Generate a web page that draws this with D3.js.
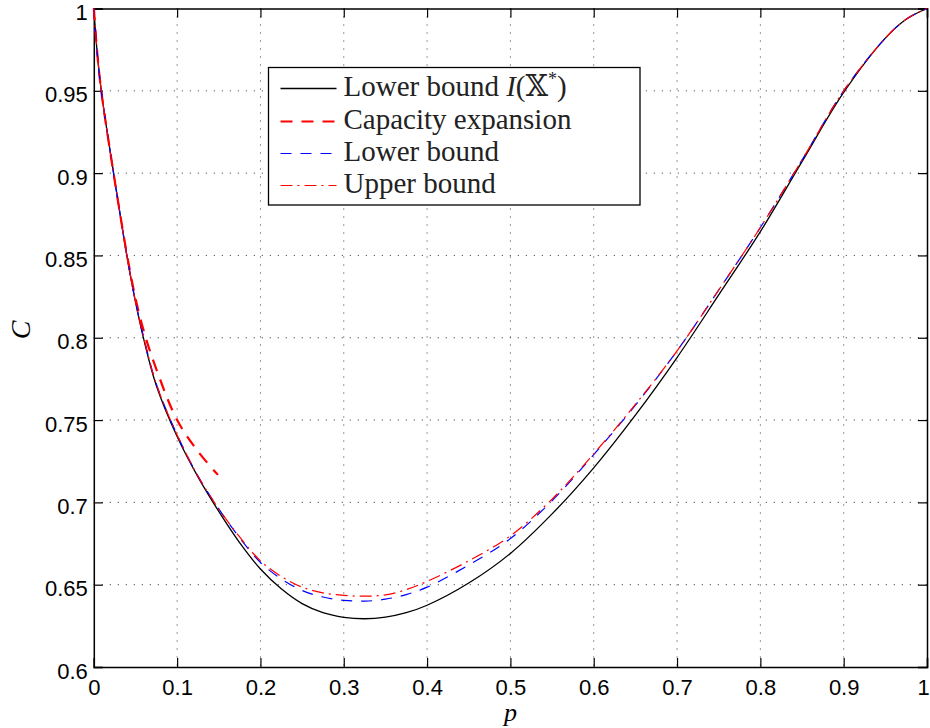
<!DOCTYPE html>
<html>
<head>
<meta charset="utf-8">
<script src="https://cdn.jsdelivr.net/npm/d3@7/dist/d3.min.js"></script>
<style>
  body { margin: 0; background: #fff; }
  svg { display: block; }
</style>
</head>
<body>
<svg id="chart" width="930" height="728"></svg>
<script>
// values
const pLower = [0, 0.005, 0.01, 0.02, 0.03, 0.04, 0.05, 0.06, 0.075, 0.1, 0.125, 0.15, 0.175, 0.2, 0.225, 0.25, 0.275, 0.3, 0.325, 0.35, 0.375, 0.4, 0.45, 0.5, 0.55, 0.6, 0.65, 0.7, 0.75, 0.8, 0.85, 0.9, 0.95, 0.975, 1];
const cIxStar = [1, 0.968, 0.946, 0.912, 0.880, 0.849, 0.822, 0.799, 0.771, 0.740, 0.7155, 0.6945, 0.6755, 0.6595, 0.6475, 0.6385, 0.633, 0.6302, 0.6293, 0.6303, 0.633, 0.6375, 0.651, 0.669, 0.693, 0.721, 0.753, 0.788, 0.826, 0.8645, 0.907, 0.949, 0.982, 0.9935, 1];
const cLowerBound = [1, 0.968, 0.946, 0.912, 0.880, 0.849, 0.822, 0.800, 0.772, 0.741, 0.716, 0.696, 0.6785, 0.6635, 0.6535, 0.6465, 0.6425, 0.6405, 0.6400, 0.6412, 0.6440, 0.6485, 0.662, 0.678, 0.701, 0.729, 0.759, 0.792, 0.829, 0.867, 0.908, 0.95, 0.982, 0.9935, 1];
const cUpperBound = [1, 0.968, 0.946, 0.912, 0.880, 0.849, 0.822, 0.800, 0.772, 0.741, 0.716, 0.696, 0.679, 0.6645, 0.655, 0.6485, 0.645, 0.6435, 0.6430, 0.6438, 0.6470, 0.652, 0.6645, 0.6797, 0.702, 0.7295, 0.7595, 0.792, 0.829, 0.867, 0.908, 0.95, 0.982, 0.9935, 1];

const pExpansion = [0, 0.005, 0.01, 0.02, 0.03, 0.04, 0.05, 0.06, 0.075, 0.1, 0.125, 0.149];
const cExpansion = [1, 0.968, 0.946, 0.912, 0.880, 0.850, 0.824, 0.804, 0.781, 0.75, 0.731, 0.7167];

const xTicks = [0, 0.1, 0.2, 0.3, 0.4, 0.5, 0.6, 0.7, 0.8, 0.9, 1];
const xTickLabels = ["0", "0.1", "0.2", "0.3", "0.4", "0.5", "0.6", "0.7", "0.8", "0.9", "1"];
const yTicks = [0.6, 0.65, 0.7, 0.75, 0.8, 0.85, 0.9, 0.95, 1];
const yTickLabels = ["0.6", "0.65", "0.7", "0.75", "0.8", "0.85", "0.9", "0.95", "1"];

const legendNames = ["Lower bound I(\u{1D54F}*)", "Capacity expansion", "Lower bound", "Upper bound"];

const svg = d3.select("#chart");
const margin = { top: 8.5, right: 3, bottom: 61, left: 93.8 };
const width = 930 - margin.left - margin.right;
const height = 728 - margin.top - margin.bottom;

const g = svg.append("g").attr("transform", `translate(${margin.left},${margin.top})`);

const x = d3.scaleLinear().domain([0, 1]).range([0, width]);
const y = d3.scaleLinear().domain([0.6, 1]).range([height, 0]);

// dotted grid
const grid = g.append("g").attr("class", "grid");
grid.selectAll(".vgrid")
  .data(xTicks.slice(1, -1))
  .join("line")
  .attr("x1", (d) => x(d)).attr("x2", (d) => x(d))
  .attr("y1", 0).attr("y2", height)
  .attr("stroke", "#333").attr("stroke-width", 1)
  .attr("stroke-dasharray", "1,7");
grid.selectAll(".hgrid")
  .data(yTicks.slice(1, -1))
  .join("line")
  .attr("x1", 0).attr("x2", width)
  .attr("y1", (d) => y(d)).attr("y2", (d) => y(d))
  .attr("stroke", "#333").attr("stroke-width", 1)
  .attr("stroke-dasharray", "1,7");

// axes, inward ticks on all four sides
const tickFont = (sel) => sel
  .attr("font-family", "'Liberation Sans', Arial, sans-serif")
  .attr("font-size", 22)
  .attr("fill", "#000");

const gx = g.append("g").attr("transform", `translate(0,${height})`)
  .call(d3.axisBottom(x).tickValues(xTicks).tickSize(-9).tickPadding(12)
    .tickFormat((d, i) => xTickLabels[i]));
const gxTop = g.append("g")
  .call(d3.axisTop(x).tickValues(xTicks).tickSize(-9).tickFormat(""));
const gy = g.append("g")
  .call(d3.axisLeft(y).tickValues(yTicks).tickSize(-9).tickPadding(6)
    .tickFormat((d, i) => yTickLabels[i]));
const gyRight = g.append("g").attr("transform", `translate(${width},0)`)
  .call(d3.axisRight(y).tickValues(yTicks).tickSize(-9).tickFormat(""));

[gx, gxTop, gy, gyRight].forEach((ax) => {
  ax.select(".domain").attr("stroke", "#000").attr("stroke-width", 1.5);
  ax.selectAll(".tick line").attr("stroke", "#000").attr("stroke-width", 1.2);
  ax.selectAll(".tick text").call(tickFont);
});
gy.selectAll(".tick text").attr("dy", "0.5em");
gx.selectAll(".tick:last-of-type text").attr("dx", -4);

// series
const line = d3.line()
  .curve(d3.curveCatmullRom.alpha(0.5))
  .x((d) => x(d[0]))
  .y((d) => y(d[1]));

const series = [
  { p: pLower, c: cIxStar, color: "#000", width: 1.3, dash: null },
  { p: pExpansion, c: cExpansion, color: "#ff0000", width: 2.2, dash: "12,9" },
  { p: pLower, c: cLowerBound, color: "#0000ff", width: 1.2, dash: "11,9" },
  { p: pLower, c: cUpperBound, color: "#ff0000", width: 1.2, dash: "12,5,2,5" },
];

series.forEach((s) => {
  g.append("path")
    .datum(d3.zip(s.p, s.c))
    .attr("d", line)
    .attr("fill", "none")
    .attr("stroke", s.color)
    .attr("stroke-width", s.width)
    .attr("stroke-dasharray", s.dash);
});

// legend
const legend = svg.append("g").attr("transform", "translate(268.5,67.5)");
legend.append("rect")
  .attr("width", 371.5).attr("height", 137.5)
  .attr("fill", "#fff").attr("stroke", "#000").attr("stroke-width", 1.3);

const rowY = [21, 54, 86, 118];
series.forEach((s, i) => {
  legend.append("line")
    .attr("x1", 12).attr("x2", 68)
    .attr("y1", rowY[i]).attr("y2", rowY[i])
    .attr("stroke", s.color).attr("stroke-width", s.width)
    .attr("stroke-dasharray", s.dash);
});

const legendText = legend.selectAll(".ltext")
  .data(legendNames)
  .join("text")
  .attr("x", 75)
  .attr("y", (d, i) => rowY[i] + 7.5)
  .attr("font-family", "'Liberation Serif', 'DejaVu Serif', serif")
  .attr("font-size", 29)
  .attr("fill", "#222");

legendText.each(function (d, i) {
  const t = d3.select(this);
  if (i === 0) {
    t.append("tspan").text("Lower bound ");
    t.append("tspan").attr("font-style", "italic").text("I");
    t.append("tspan").text("(\u{1D54F}");
    t.append("tspan").attr("font-size", 18).attr("dy", -11).text("*");
    t.append("tspan").attr("dy", 11).text(")");
  } else {
    t.text(d);
  }
});

// axis labels
svg.append("text")
  .attr("x", margin.left + width / 2)
  .attr("y", 721)
  .attr("text-anchor", "middle")
  .attr("font-family", "'Liberation Serif', serif")
  .attr("font-style", "italic")
  .attr("font-size", 26)
  .text("p");

svg.append("text")
  .attr("transform", "translate(30,330) rotate(-90)")
  .attr("text-anchor", "middle")
  .attr("font-family", "'Liberation Serif', serif")
  .attr("font-style", "italic")
  .attr("font-size", 28)
  .text("C");
</script>
</body>
</html>
